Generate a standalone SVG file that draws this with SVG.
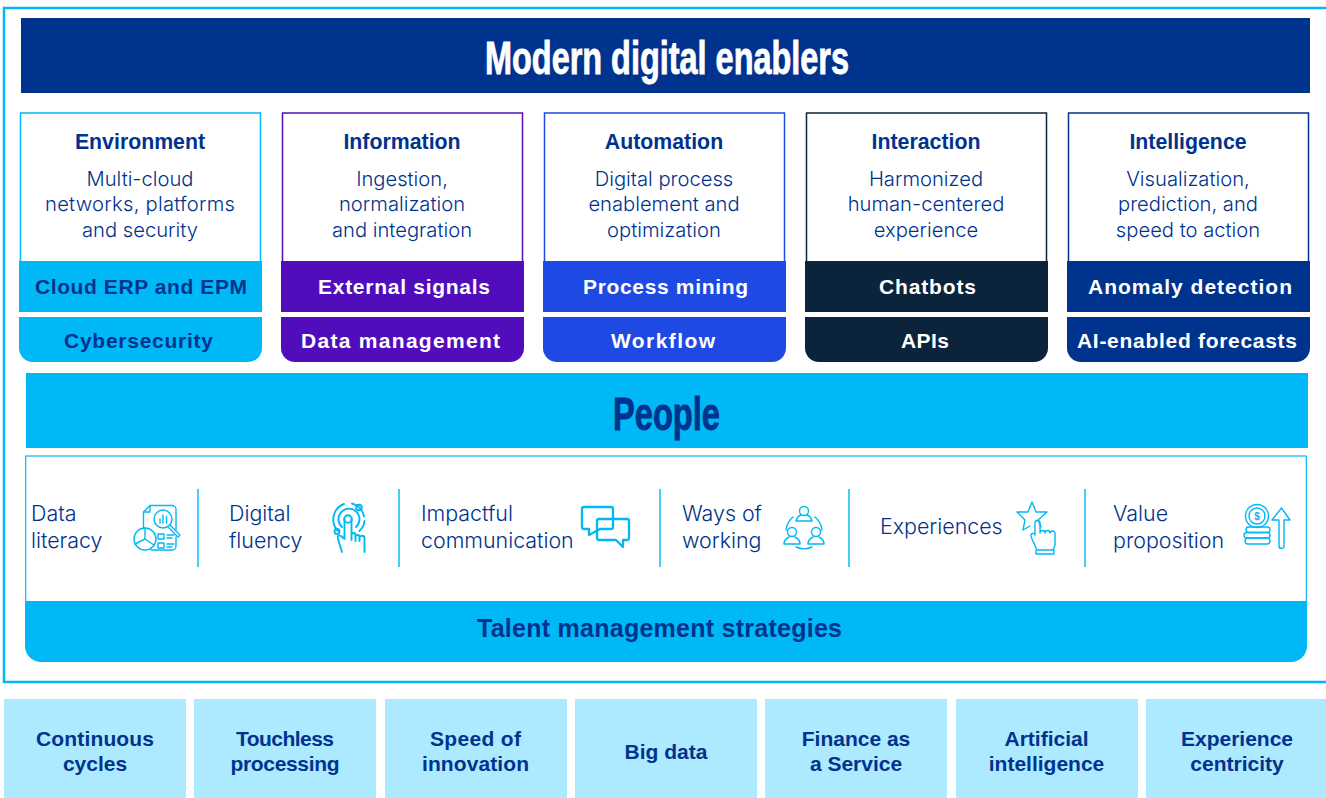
<svg xmlns="http://www.w3.org/2000/svg" width="1326" height="798" viewBox="0 0 1326 798">
<style>
.h{font-family:"Liberation Sans",Arial,sans-serif;font-weight:700;fill:#00338D;font-size:21.3px;text-anchor:middle}
.b{font-family:Inter,"Liberation Sans",sans-serif;font-weight:300;fill:#00338D;font-size:20.2px;text-anchor:middle}
.l{font-family:Inter,"Liberation Sans",sans-serif;font-weight:300;fill:#00338D;font-size:21.4px}
.t{font-family:"Liberation Sans",Arial,sans-serif;font-weight:700;font-size:21px;text-anchor:middle}
.c{font-family:"Liberation Sans",Arial,sans-serif;font-weight:700;font-size:21px;fill:#00338D;text-anchor:middle}
.d{font-family:"Liberation Sans",Arial,sans-serif;font-weight:700;fill:#00338D;stroke:#00338D;stroke-width:.9;text-anchor:middle;font-size:46px}
.i{fill:none;stroke:#00B8F5;stroke-width:1.4;stroke-linecap:round;stroke-linejoin:round}
.v{stroke:#00B8F5;stroke-width:1.4}
.p{fill:#ADE9FF}
</style>
<rect width="1326" height="798" fill="#fff"/>
<path d="M1326 8H4V682H1326" fill="none" stroke="#00B8F5" stroke-width="2.5"/>
<g id="banner"><rect x="21" y="18" width="1289" height="75" fill="#00338D"/>
<text class="d" x="667" y="74" style="fill:#fff;stroke:#fff" textLength="364" lengthAdjust="spacingAndGlyphs">Modern digital enablers</text></g>

<g id="col-environment">
<rect x="20.5" y="113" width="240" height="150" fill="#fff" stroke="#00B8F5" stroke-width="1.5"/>
<rect x="19" y="261" width="243" height="51" fill="#00B8F5"/>
<path d="M19 317H262V348a14 14 0 0 1-14 14H33a14 14 0 0 1-14-14Z" fill="#00B8F5"/>
<text class="h" x="140" y="149">Environment</text>
<text class="b" x="140" y="186">Multi-cloud</text><text class="b" x="140" y="211" textLength="190">networks, platforms</text><text class="b" x="140" y="237">and security</text>
<text class="t" x="141" y="294" fill="#00338D" textLength="212">Cloud ERP and EPM</text>
<text class="t" x="138.500" y="348" fill="#00338D" textLength="149">Cybersecurity</text></g>

<g id="col-information">
<rect x="282.5" y="113" width="240" height="150" fill="#fff" stroke="#510DBC" stroke-width="1.5"/>
<rect x="281" y="261" width="243" height="51" fill="#510DBC"/>
<path d="M281 317H524V348a14 14 0 0 1-14 14H295a14 14 0 0 1-14-14Z" fill="#510DBC"/>
<text class="h" x="402" y="149">Information</text>
<text class="b" x="402" y="186">Ingestion,</text><text class="b" x="402" y="211">normalization</text><text class="b" x="402" y="237">and integration</text>
<text class="t" x="404" y="294" fill="#fff" textLength="172">External signals</text>
<text class="t" x="400.500" y="348" fill="#fff" textLength="199">Data management</text></g>

<g id="col-automation">
<rect x="544.5" y="113" width="240" height="150" fill="#fff" stroke="#1E49E2" stroke-width="1.5"/>
<rect x="543" y="261" width="243" height="51" fill="#1E49E2"/>
<path d="M543 317H786V348a14 14 0 0 1-14 14H557a14 14 0 0 1-14-14Z" fill="#1E49E2"/>
<text class="h" x="664" y="149">Automation</text>
<text class="b" x="664" y="186">Digital process</text><text class="b" x="664" y="211">enablement and</text><text class="b" x="664" y="237">optimization</text>
<text class="t" x="665.500" y="294" fill="#fff" textLength="165">Process mining</text>
<text class="t" x="663" y="348" fill="#fff" textLength="104">Workflow</text></g>

<g id="col-interaction">
<rect x="806.5" y="113" width="240" height="150" fill="#fff" stroke="#0C233C" stroke-width="1.5"/>
<rect x="805" y="261" width="243" height="51" fill="#0C233C"/>
<path d="M805 317H1048V348a14 14 0 0 1-14 14H819a14 14 0 0 1-14-14Z" fill="#0C233C"/>
<text class="h" x="926" y="149">Interaction</text>
<text class="b" x="926" y="186">Harmonized</text><text class="b" x="926" y="211">human-centered</text><text class="b" x="926" y="237">experience</text>
<text class="t" x="927.500" y="294" fill="#fff" textLength="97">Chatbots</text>
<text class="t" x="925" y="348" fill="#fff" textLength="48">APIs</text></g>

<g id="col-intelligence">
<rect x="1068.5" y="113" width="240" height="150" fill="#fff" stroke="#00338D" stroke-width="1.5"/>
<rect x="1067" y="261" width="243" height="51" fill="#00338D"/>
<path d="M1067 317H1310V348a14 14 0 0 1-14 14H1081a14 14 0 0 1-14-14Z" fill="#00338D"/>
<text class="h" x="1188" y="149">Intelligence</text>
<text class="b" x="1188" y="186">Visualization,</text><text class="b" x="1188" y="211">prediction, and</text><text class="b" x="1188" y="237">speed to action</text>
<text class="t" x="1190" y="294" fill="#fff" textLength="204">Anomaly detection</text>
<text class="t" x="1187" y="348" fill="#fff" textLength="220">AI-enabled forecasts</text></g>

<g id="people"><rect x="26" y="373" width="1282" height="75" fill="#00B8F5"/>
<text class="d" x="666.500" y="430" textLength="107" lengthAdjust="spacingAndGlyphs">People</text></g>

<g id="talent">
<rect x="25.7" y="456" width="1280.6" height="170" fill="#fff" stroke="#00B8F5" stroke-width="1.2"/>
<path d="M25 601H1307V646a16 16 0 0 1-16 16H41a16 16 0 0 1-16-16Z" fill="#00B8F5"/>
<text class="c" x="659.500" y="637" style="font-size:25px" textLength="365">Talent management strategies</text>
<path class="v" d="M198 489V567M399 489V567M660 489V567M849 489V567M1085 489V567" fill="none"/>
</g>

<g id="data-literacy"><text class="l" x="31" y="521">Data</text><text class="l" x="31" y="548">literacy</text>
<g class="i"><path d="M143.500 528V512L150 505.500H172a4 4 0 0 1 4 4V530M176 537V546a4 4 0 0 1-4 4H151"/><path d="M150 505.500V512H143.500"/>
<circle cx="163" cy="519" r="9"/><path d="M160 523V519M163 523V515M166.500 523V516.500M170 525L180 535l-2 2-10-10"/>
<circle cx="145" cy="539" r="11" fill="#fff" style="fill:#fff"/><path d="M145 528V539L154 545M145 539L135 544"/>
<path d="M158 534h6v5h-6zM158 543h6v5h-6zM167 535h7M167 538h5M167 544h7M167 547h5"/></g></g>

<g id="digital-fluency"><text class="l" x="229" y="521">Digital</text><text class="l" x="229" y="548">fluency</text>
<g class="i" style="stroke-width:1.900"><path d="M338 531a16.500 16.500 0 0 1 6-27M352 503.500a16.500 16.500 0 0 1 12 13M364.500 521a16.500 16.500 0 0 1-5 10"/>
<path d="M342 527a10.500 10.500 0 1 1 14 0"/><circle cx="348" cy="519" r="3.800"/>
<circle cx="359" cy="507.500" r="2.800"/><circle cx="337" cy="531.500" r="2.500"/>
<path d="M344.500 519V539L341 536Q337 534 338 539L342 552M351.500 519V540M351.500 538V535a2 2 0 0 1 4 0V541M355.500 537a2 2 0 0 1 4 0V541M359.500 538a2.500 2.500 0 0 1 5 .5V552"/></g></g>

<g id="impactful-communication"><text class="l" x="421" y="521">Impactful</text><text class="l" x="421" y="548">communication</text>
<g class="i" style="stroke-width:2.300"><path d="M584 507H611a2 2 0 0 1 2 2V527a2 2 0 0 1-2 2H600L589 535V529H584a2 2 0 0 1-2-2V509a2 2 0 0 1 2-2Z"/>
<path d="M599 519H627a2 2 0 0 1 2 2V538a2 2 0 0 1-2 2H623V547L616 540H599a2 2 0 0 1-2-2V521a2 2 0 0 1 2-2Z"/></g></g>

<g id="ways-of-working"><text class="l" x="682" y="521">Ways of</text><text class="l" x="682" y="548">working</text>
<g class="i"><circle cx="804" cy="511" r="4.500"/><path d="M796 521c1-4 3-5.500 5-6M812 521c-1-4-3-5.500-5-6M796 521H812"/>
<circle cx="792" cy="532" r="4.500"/><path d="M784 544c0-4 3-6 5-7M800 544c0-4-3-6-5-7M784 544H800"/>
<circle cx="816" cy="532" r="4.500"/><path d="M808 544c0-4 3-6 5-7M824 544c0-4-3-6-5-7M808 544H824"/>
<path d="M786 530a19 19 0 0 1 7-13M815 517a19 19 0 0 1 7 13M796 547a19 19 0 0 0 16 0"/></g></g>

<g id="experiences"><text class="l" x="880" y="534">Experiences</text>
<g class="i"><path d="M1032 502L1036 512 1047 512 1038 520 1041 527M1032 502L1028 512 1017 512 1025 520 1023 530 1030 526"/>
<path d="M1035 523a2.500 2.500 0 0 1 5 0V533a2.500 2.500 0 0 1 5 0a2.500 2.500 0 0 1 5 0a2.500 2.500 0 0 1 5 1V545L1053 550H1037L1032 539 1031 536a2 2 0 0 1 4-1Z"/><path d="M1036 550V554H1054V550"/></g></g>

<g id="value-proposition"><text class="l" x="1113" y="521">Value</text><text class="l" x="1113" y="548">proposition</text>
<g class="i"><circle cx="1257" cy="516" r="11.500"/><circle cx="1257" cy="516" r="8"/>
<text x="1257" y="520" font-family="Liberation Sans, sans-serif" font-size="10" font-weight="700" text-anchor="middle" style="fill:#00B8F5;stroke:none">$</text>
<rect x="1246" y="527" width="24" height="5.500" rx="2.700"/><rect x="1244" y="532.500" width="26" height="5.500" rx="2.700"/><rect x="1245" y="538" width="25" height="6" rx="3"/>
<path d="M1279 546V520H1272L1281.500 508 1290 520H1284V546a2.500 2.500 0 0 1-5 0Z"/></g></g>

<g id="enablers">
<g id="e1"><rect class="p" x="4" y="699" width="182" height="99"/><text class="c" x="95" y="746" textLength="118">Continuous</text><text class="c" x="95" y="771">cycles</text></g>
<g id="e2"><rect class="p" x="194" y="699" width="182" height="99"/><text class="c" x="285" y="746" textLength="98">Touchless</text><text class="c" x="285" y="771" textLength="109">processing</text></g>
<g id="e3"><rect class="p" x="385" y="699" width="182" height="99"/><text class="c" x="475.500" y="746" textLength="91">Speed of</text><text class="c" x="475.500" y="771" textLength="107">innovation</text></g>
<g id="e4"><rect class="p" x="575" y="699" width="182" height="99"/><text class="c" x="666" y="759">Big data</text></g>
<g id="e5"><rect class="p" x="765" y="699" width="182" height="99"/><text class="c" x="856" y="746">Finance as</text><text class="c" x="856" y="771">a Service</text></g>
<g id="e6"><rect class="p" x="956" y="699" width="182" height="99"/><text class="c" x="1046.500" y="746">Artificial</text><text class="c" x="1046.500" y="771">intelligence</text></g>
<g id="e7"><rect class="p" x="1146" y="699" width="180" height="99"/><text class="c" x="1237" y="746">Experience</text><text class="c" x="1237" y="771">centricity</text></g>
</g>
</svg>
